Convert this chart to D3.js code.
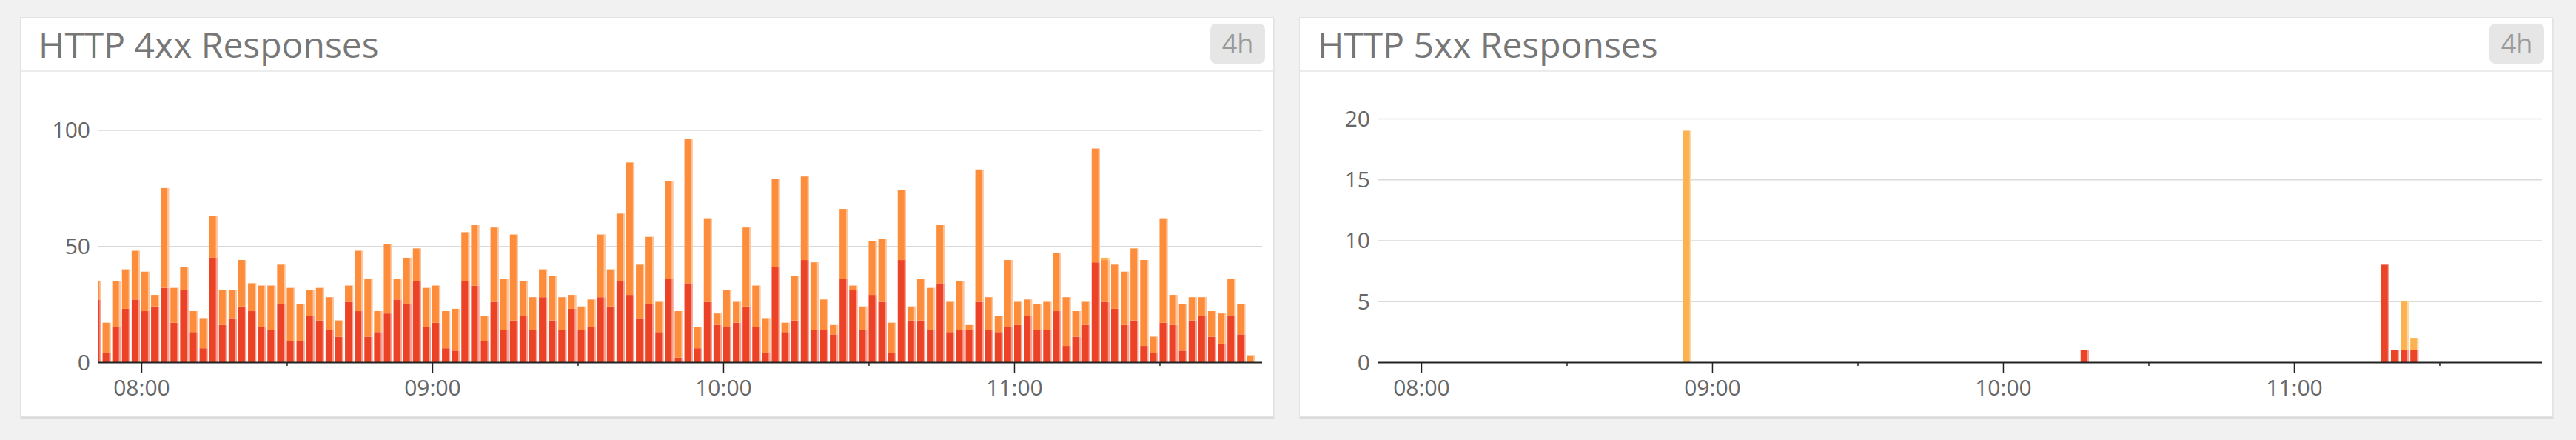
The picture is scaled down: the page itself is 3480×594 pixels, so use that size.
<!DOCTYPE html>
<html>
<head>
<meta charset="utf-8">
<script src="https://cdn.jsdelivr.net/npm/d3@7"></script>
<style>
  body { margin: 0; background: #f1f1f1; }
  svg { display: block; font-family: "Open Sans", sans-serif; }
</style>
</head>
<body>
<svg id="board" width="3480" height="594"></svg>
<script>

// time window shown on both widgets (4h) and the 2 minute buckets
var windowStart = "07:51:09";
var windowEnd = "11:51:09";
var firstBucket = "07:50:00";
var bucketMinutes = 2;
var bucketCount = 120;

var hourTicks = ["08:00", "09:00", "10:00", "11:00"];
var halfHourTicks = ["08:30", "09:30", "10:30", "11:30"];

// HTTP 4xx, one value per 2 minute bucket
var red4xx = [
  27,4,15,23,27,22,24,32,17,31,13,6,45,16,19,24,22,15,14,25,
  9,9,20,18,14,11,26,22,11,13,21,27,25,35,15,17,6,5,35,33,
  9,26,14,18,20,14,28,18,14,23,14,15,28,24,35,29,19,25,13,36,
  2,34,6,26,16,15,17,24,15,4,41,13,18,44,14,14,12,36,31,14,
  29,26,4,44,18,18,14,34,13,14,14,26,14,13,15,16,20,14,14,22,
  7,11,16,43,26,23,16,18,7,4,17,16,5,18,20,11,8,20,12,0];
var orange4xx = [
  8,13,20,17,21,17,5,43,15,10,9,13,18,15,12,20,12,18,19,17,
  23,16,11,14,14,7,7,26,25,9,30,9,20,14,17,16,16,18,21,26,
  11,32,22,37,15,14,12,19,14,6,10,12,27,16,29,57,23,29,13,42,
  20,62,9,36,5,16,9,34,18,15,38,4,19,36,29,13,4,30,2,10,
  23,27,13,30,6,18,18,25,13,21,2,57,14,7,29,10,7,11,12,25,
  21,11,10,49,18,19,23,31,37,7,45,13,20,10,8,11,13,16,13,3];
var amber4xxTimes = ["11:18"];
var amber4xxValues = [1];

// HTTP 5xx, only a few non-empty buckets
var times5xx = ["08:54", "10:16", "11:18", "11:20", "11:22", "11:24"];
var red5xx = [0, 1, 8, 1, 1, 1];
var amber5xx = [19, 0, 0, 0, 4, 1];

var yTicks4xx = [0, 50, 100];
var yTicks5xx = [0, 5, 10, 15, 20];

var colors = { red: "#ec4226", orange: "#fd8c3b", amber: "#fcb250" };

var parseTime = d3.timeParse("%H:%M:%S");
function T(s) { return parseTime(s.length == 5 ? s + ":00" : s); }

function buildRows(redVals, orangeVals, extraTimes, extraRed, extraAmber) {
    var rows = [];
    var start = T(firstBucket);
    for (var i = 0; i < bucketCount; i++) {
        rows.push({
            time: d3.timeMinute.offset(start, i * bucketMinutes),
            red: redVals ? redVals[i] : 0,
            orange: orangeVals ? orangeVals[i] : 0,
            amber: 0
        });
    }
    extraTimes.forEach(function(s, j) {
        var row = rows.find(function(r) { return +r.time == +T(s); });
        if (extraRed) row.red = extraRed[j];
        row.amber = extraAmber[j];
    });
    return rows;
}

var svg = d3.select("#board");

function drawPanel(o) {
    var g = svg.append("g").attr("transform", "translate(" + o.left + ",23)");
    var cardW = 1694, cardH = 540;

    // card
    g.append("rect")
        .attr("x", 0.5).attr("y", 2.5)
        .attr("width", cardW).attr("height", cardH)
        .attr("fill", "#dcdcdc");
    g.append("rect")
        .attr("x", 0.5).attr("y", 0.5)
        .attr("width", cardW - 1).attr("height", cardH - 1)
        .attr("fill", "#fff")
        .attr("stroke", "#e3e3e3");
    g.append("rect")
        .attr("x", 1).attr("y", 71)
        .attr("width", cardW - 2).attr("height", 3)
        .attr("fill", "#ececec");

    g.append("text")
        .attr("x", 25).attr("y", 55)
        .attr("fill", "#777")
        .attr("font-size", 48)
        .text(o.title);

    g.append("rect")
        .attr("x", cardW - 86).attr("y", 9)
        .attr("width", 74).attr("height", 54)
        .attr("rx", 8)
        .attr("fill", "#e6e6e6");
    g.append("text")
        .attr("x", cardW - 49).attr("y", 49)
        .attr("text-anchor", "middle")
        .attr("fill", "#9a9a9a")
        .attr("font-size", 36)
        .text("4h");

    // plot
    var x = d3.scaleTime()
        .domain([T(windowStart), T(windowEnd)])
        .range([o.plotLeft - o.left, o.plotLeft - o.left + 1572]);
    var y = d3.scaleLinear()
        .domain([0, o.yMax])
        .range([466, 466 - o.pxPerUnit * o.yMax]);

    var x0 = x.range()[0], x1 = x.range()[1];

    g.append("g")
        .selectAll("line")
        .data(o.yTicks.filter(function(d) { return d > 0; }))
        .join("line")
        .attr("x1", x0).attr("x2", x1)
        .attr("y1", function(d) { return y(d) + 0.5; })
        .attr("y2", function(d) { return y(d) + 0.5; })
        .attr("stroke", "#dadada")
        .attr("stroke-width", 1.5);

    g.append("g")
        .attr("fill", "#666")
        .attr("font-size", 30)
        .attr("text-anchor", "end")
        .selectAll("text")
        .data(o.yTicks)
        .join("text")
        .attr("x", x0 - 11)
        .attr("y", function(d) { return y(d); })
        .attr("dy", "0.36em")
        .text(function(d) { return d; });

    var clipId = "clip" + o.left;
    g.append("clipPath").attr("id", clipId)
        .append("rect")
        .attr("x", x0).attr("y", 0)
        .attr("width", x1 - x0).attr("height", 466);

    var stack = d3.stack().keys(["red", "orange", "amber"]);
    var layers = stack(o.rows);
    var bars = g.append("g").attr("clip-path", "url(#" + clipId + ")");

    function step(d) {
        return x(d3.timeMinute.offset(d, bucketMinutes)) - x(d);
    }

    bars.selectAll("g.layer")
        .data(layers)
        .join("g")
        .attr("class", "layer")
        .attr("fill", function(l) { return colors[l.key]; })
        .selectAll("rect")
        .data(function(l) { return l.filter(function(d) { return d[1] > d[0]; }); })
        .join("rect")
        .attr("x", function(d) { return x(d.data.time); })
        .attr("width", function(d) { return step(d.data.time) - 2; })
        .attr("y", function(d) { return y(d[1]); })
        .attr("height", function(d) { return y(d[0]) - y(d[1]); });

    // pale right edge on every bar
    bars.append("g")
        .selectAll("rect")
        .data(o.rows.filter(function(r) { return r.red + r.orange + r.amber > 0; }))
        .join("rect")
        .attr("x", function(r) { return x(r.time) + step(r.time) - 4.2; })
        .attr("width", 2.2)
        .attr("y", function(r) { return y(r.red + r.orange + r.amber); })
        .attr("height", function(r) { return y(0) - y(r.red + r.orange + r.amber); })
        .attr("fill", "#fff")
        .attr("fill-opacity", 0.5);

    // x axis
    var axis = g.append("g").attr("transform", "translate(0,466)");
    axis.call(d3.axisBottom(x)
            .tickValues(halfHourTicks.map(T))
            .tickSize(5)
            .tickFormat(""))
        .call(function(a) { a.select(".domain").remove(); });
    var hours = g.append("g").attr("transform", "translate(0,466)");
    hours.call(d3.axisBottom(x)
            .tickValues(hourTicks.map(T))
            .tickSize(14)
            .tickPadding(10)
            .tickFormat(d3.timeFormat("%H:%M")))
        .call(function(a) { a.select(".domain").remove(); });
    g.selectAll(".tick line").attr("stroke", "#222").attr("stroke-width", 1.5);
    g.selectAll(".tick text")
        .attr("fill", "#666")
        .attr("font-size", 30)
        .attr("font-family", "Open Sans, sans-serif");

    g.append("line")
        .attr("x1", x0).attr("x2", x1)
        .attr("y1", 466.5).attr("y2", 466.5)
        .attr("stroke", "#222")
        .attr("stroke-width", 2);
}

drawPanel({
    left: 27,
    plotLeft: 133,
    title: "HTTP 4xx Responses",
    rows: buildRows(red4xx, orange4xx, amber4xxTimes, null, amber4xxValues),
    yTicks: yTicks4xx,
    yMax: 108,
    pxPerUnit: 3.135
});

drawPanel({
    left: 1755,
    plotLeft: 1862,
    title: "HTTP 5xx Responses",
    rows: buildRows(null, null, times5xx, red5xx, amber5xx),
    yTicks: yTicks5xx,
    yMax: 20.6,
    pxPerUnit: 16.45
});

</script>
</body>
</html>
